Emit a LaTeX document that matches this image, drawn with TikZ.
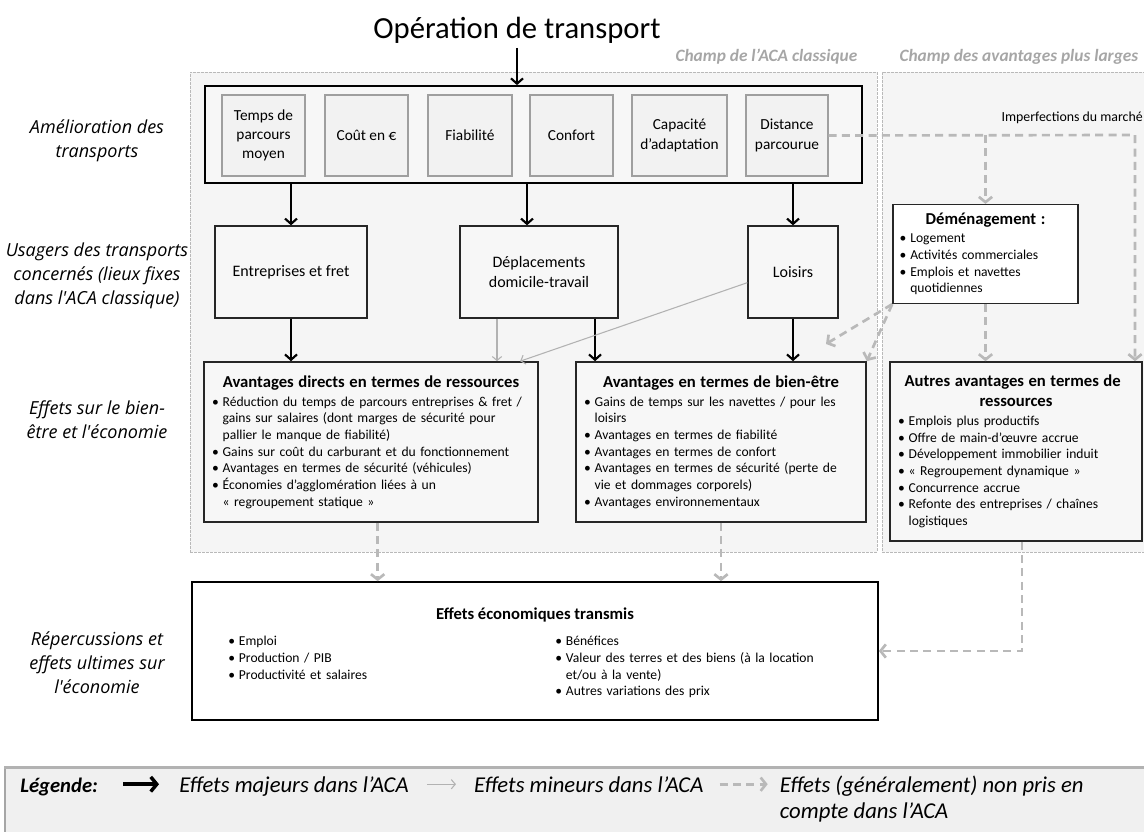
\documentclass[tikz,border=0pt]{standalone}
\usepackage{fontspec}
\setmainfont{Carlito}
\newfontfamily\lblfont{Open Sans}
\usetikzlibrary{arrows.meta,positioning}
\newcommand\hd[1]{{\centering\fontsize{12.5}{15}\selectfont\bfseries #1\par}\vspace{1.5pt}}
\newcommand\bul[1]{\hangindent=8pt\hangafter=1\noindent\makebox[8pt][l]{\textbullet}#1\par}
\begin{document}
\begin{tikzpicture}[x=0.75pt,y=-0.75pt,
  region/.style={draw=gray!55,dash pattern=on 2pt off 1pt,line width=0.6pt,fill=black!4},
  factor/.style={draw=gray!75,line width=0.8pt,fill=black!5,align=center,font=\fontsize{11.5}{14.5}\selectfont,minimum height=60.75pt},
  user/.style={draw=black!85,line width=1pt,fill=black!3,align=center,font=\fontsize{12}{14.5}\selectfont,minimum height=69pt},
  effect/.style={draw=black!85,line width=1.2pt,fill=black!3,align=left,inner xsep=6pt,font=\fontsize{10.2}{12.5}\selectfont},
  liste/.style={align=left,inner sep=0pt,font=\fontsize{10.2}{12.5}\selectfont},
  major/.style={draw=black,line width=1.6pt,-{Straight Barb[length=4pt,width=9pt]}},
  minor/.style={draw=gray!60,line width=0.8pt,-{Straight Barb[length=3pt,width=7pt]}},
  notcounted/.style={draw=gray!55,line width=2pt,dash pattern=on 6pt off 4pt,-{Straight Barb[length=4pt,width=10pt]}},
  rowlabel/.style={font=\lblfont\itshape\fontsize{13.5}{18}\selectfont,align=center},
  champ/.style={font=\bfseries\itshape\fontsize{13}{15}\selectfont,text=gray!70},
  legtext/.style={font=\itshape\fontsize{17}{19.5}\selectfont,inner sep=0pt,align=left}
]
\useasboundingbox (0,0) rectangle (1144,831);

\node[region,minimum width=515.25pt,minimum height=360pt] (aca) at (533.5,312) {};
\node[region,minimum width=201pt,minimum height=360pt] (larges) at (1016,312) {};
\node[champ,anchor=east] (champaca) at (862,57) {Champ de l'ACA classique};
\node[champ,anchor=east] (champlarges) at (1143,57) {Champ des avantages plus larges};

\node[font=\fontsize{23}{26}\selectfont] (op) at (517,30) {Opération de transport};

\node[draw=black,line width=1.3pt,fill=black!3,minimum width=492.75pt,minimum height=72.75pt] (amel) at (533.5,134.5) {};
\node[factor,minimum width=62.25pt] (temps) at (263.5,135.5) {Temps de\\parcours\\moyen};
\node[factor,minimum width=62.25pt] (cout) at (366.5,135.5) {Coût en €};
\node[factor,minimum width=63pt] (fiab) at (470,135.5) {Fiabilité};
\node[factor,minimum width=62.25pt] (confort) at (571.5,135.5) {Confort};
\node[factor,minimum width=71.25pt] (capa) at (679.5,135.5) {Capacité\\d'adaptation};
\node[factor,minimum width=61.5pt] (dist) at (787,135.5) {Distance\\parcourue};

\node[user,minimum width=114pt] (entr) at (291,272) {Entreprises et fret};
\node[user,minimum width=118.5pt] (depl) at (539,272) {Déplacements\\domicile-travail};
\node[user,minimum width=67.5pt] (lois) at (793,272) {Loisirs};

\node[effect,text width=238.5pt,minimum height=120pt] (direct) at (371,442) {\hd{Avantages directs en termes de ressources}%
\bul{Réduction du temps de parcours entreprises \& fret /\newline gains sur salaires (dont marges de sécurité pour\newline pallier le manque de fiabilité)}%
\bul{Gains sur coût du carburant et du fonctionnement}%
\bul{Avantages en termes de sécurité (véhicules)}%
\bul{Économies d'agglomération liées à un\newline «~regroupement statique~»}};
\node[effect,text width=205.5pt,minimum height=120pt] (bien) at (721,442) {\hd{Avantages en termes de bien-être}%
\bul{Gains de temps sur les navettes / pour les\newline loisirs}%
\bul{Avantages en termes de fiabilité}%
\bul{Avantages en termes de confort}%
\bul{Avantages en termes de sécurité (perte de\newline vie et dommages corporels)}%
\bul{Avantages environnementaux}};
\node[effect,text width=177pt,minimum height=134.25pt] (autres) at (1016,451.5) {\hd{Autres avantages en termes de\newline ressources}%
\bul{Emplois plus productifs}%
\bul{Offre de main-d'œuvre accrue}%
\bul{Développement immobilier induit}%
\bul{«~Regroupement dynamique~»}%
\bul{Concurrence accrue}%
\bul{Refonte des entreprises / chaînes\newline logistiques}};
\node[effect,fill=white,inner xsep=5pt,text width=128.75pt,minimum height=74pt] (demen) at (985.5,254) {\hd{Déménagement :}%
\bul{Logement}%
\bul{Activités commerciales}%
\bul{Emplois et navettes\newline quotidiennes}};
\node[font=\fontsize{10.4}{12}\selectfont,anchor=east,inner sep=0pt] (imperf) at (1143,118) {Imperfections du marché};
\coordinate (coin) at (1135,135);
\coordinate (libre) at (826,344);

\node[draw=black,line width=1.2pt,fill=white,minimum width=514.5pt,minimum height=103.5pt] (eco) at (535,651) {};
\node[font=\fontsize{12.5}{15}\selectfont\bfseries] (ecotitre) at (535,615) {Effets économiques transmis};
\node[liste,anchor=north west,text width=150pt] (ecog) at (228,636) {\bul{Emploi}\bul{Production / PIB}\bul{Productivité et salaires}};
\node[liste,anchor=north west,text width=215pt] (ecod) at (555,636) {\bul{Bénéfices}\bul{Valeur des terres et des biens (à la location\newline et/ou à la vente)}\bul{Autres variations des prix}};

\node[rowlabel] (lab1) at (97,141) {Amélioration des\\transports};
\node[rowlabel] (lab2) at (97,276) {Usagers des transports\\concernés (lieux fixes\\dans l'ACA classique)};
\node[rowlabel] (lab3) at (97,420) {Effets sur le bien-\\être et l'économie};
\node[rowlabel] (lab4) at (97,663) {Répercussions et\\effets ultimes sur\\l'économie};

\draw[major] (op.south) -- (op.south |- amel.north);
\draw[major] (entr.north |- amel.south) -- (entr.north);
\draw[major] ([xshift=-9pt]depl.north |- amel.south) -- ([xshift=-9pt]depl.north);
\draw[major] (lois.north |- amel.south) -- (lois.north);
\draw[major] (entr.south) -- (entr.south |- direct.north);
\draw[major] ([xshift=42pt]depl.south) -- ([xshift=42pt]depl.south |- bien.north);
\draw[major] (lois.south) -- (lois.south |- bien.north);
\draw[minor] ([xshift=-31.5pt]depl.south) -- ([xshift=-31.5pt]depl.south |- direct.north);
\draw[minor] ([yshift=-8pt]lois.west) -- ([xshift=-14pt]direct.north east);

\draw[notcounted] (dist.east) -- (coin) -- (coin |- autres.north);
\draw[notcounted] (demen.north |- coin) -- (demen.north);
\draw[notcounted] (demen.south) -- (demen.south |- autres.north);
\draw[notcounted] (demen.south west) -- (libre);
\draw[notcounted] (demen.south west) -- (bien.north east);
\draw[notcounted] ([xshift=5pt]direct.south) -- ([xshift=5pt]direct.south |- eco.north);
\draw[notcounted] (bien.south) -- (bien.south |- eco.north);
\draw[notcounted] ([xshift=4.5pt]autres.south) |- (eco.east);

\node[fill=black!6,draw=gray!70,line width=1pt,minimum width=857.25pt,minimum height=50.25pt] (legende) at (576.5,801.5) {};
\draw[gray!60,line width=2pt] (legende.north west) -- (legende.north east);
\node[font=\bfseries\itshape\fontsize{15.5}{18}\selectfont,anchor=base west,inner sep=0pt] (legtitre) at (20,792) {Légende:};
\node[legtext,anchor=base west] (legmaj) at (179,792) {Effets majeurs dans l'ACA};
\node[legtext,right=48.75pt of legmaj.base east,anchor=base west] (legmin) {Effets mineurs dans l'ACA};
\node[legtext,right=57pt of legmin.north east,anchor=north west] (legnon) {Effets (généralement) non pris en\\compte dans l'ACA};
\draw[major,line width=2.6pt,-{Straight Barb[length=4.5pt,width=11pt]}] ([xshift=-42pt]legmin.west -| legmaj.west) -- ([xshift=-15pt]legmin.west -| legmaj.west);
\draw[minor,shorten <=13.5pt,shorten >=13.5pt] (legmaj.east |- legmin.west) -- (legmin.west);
\draw[notcounted,shorten <=12pt,shorten >=9pt] (legmin.east) -- (legmin.east -| legnon.west);
\end{tikzpicture}
\end{document}
